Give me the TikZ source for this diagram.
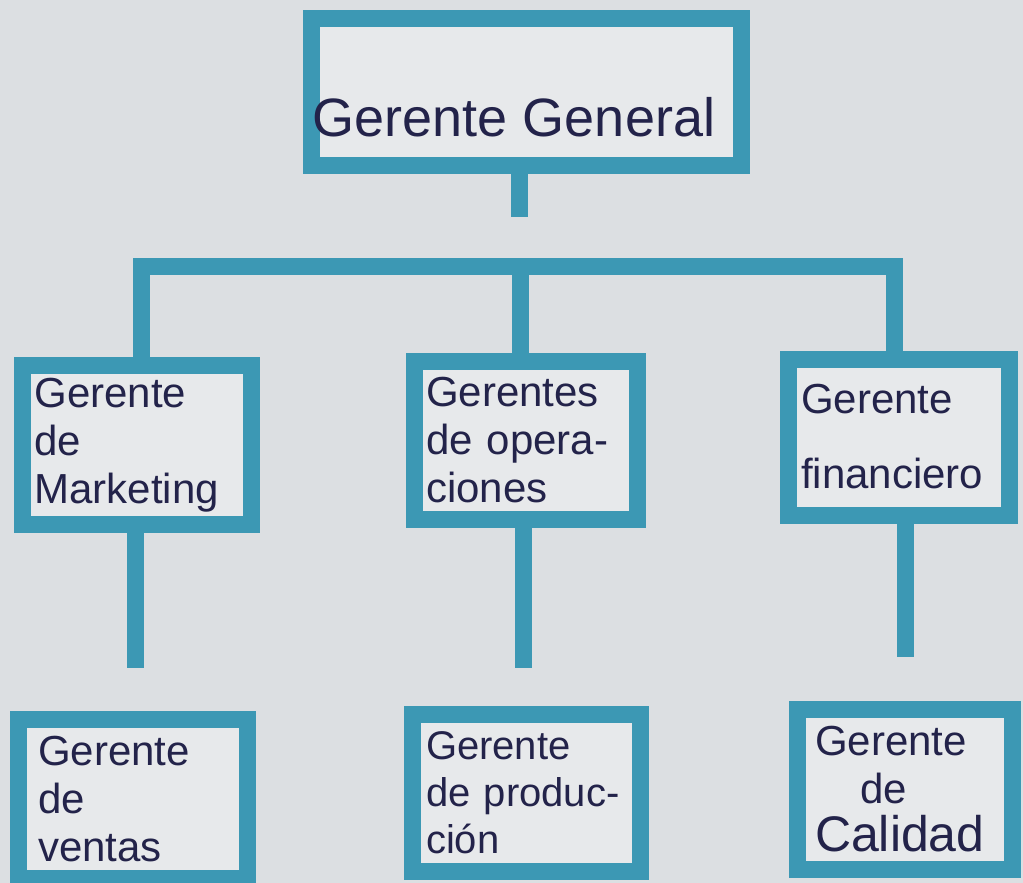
\documentclass[tikz,border=0pt]{standalone}
\usepackage{fontspec}
\setmainfont{Liberation Sans}
\definecolor{cinta}{RGB}{60,152,180}
\definecolor{papel}{RGB}{220,223,226}
\definecolor{hoja}{RGB}{231,233,235}
\definecolor{tinta}{RGB}{35,35,74}
\tikzset{
  caja/.style={draw=cinta, line width=17pt, fill=hoja, text=tinta, align=left, inner sep=0pt,
    font=\fontsize{42}{48}\selectfont},
  linea/.style={draw=cinta, line width=17pt}
}
\begin{document}
\begin{tikzpicture}[x=1pt,y=-1pt]
	\useasboundingbox (0,0) rectangle (1023,883);
	\fill[papel] (0,0) rectangle (1023,883);
	% jefe
	\node[caja, minimum width=430pt, minimum height=147pt, font=\fontsize{54}{60}\selectfont] (gg) at (526,92)
	  {\raisebox{-45pt}[0pt][0pt]{Gerente General\hspace{24pt}}};
	% segundo nivel
	\node[caja, minimum width=229pt, minimum height=159pt, text width=205pt] (mk) at (137,445) {Gerente\\de\\Marketing};
	\node[caja, minimum width=223pt, minimum height=158pt, text width=200pt] (op) at (526,440) {Gerentes\\de opera-\\ciones};
	\node[caja, minimum width=221pt, minimum height=156pt, text width=196pt] (fin) at (899,437) {Gerente\\[27pt]financiero};
	% tercer nivel
	\node[caja, minimum width=229pt, minimum height=159pt, text width=190pt] (ve) at (133,799) {Gerente\\de\\ventas};
	\node[caja, minimum width=228pt, minimum height=157pt, text width=200pt, font=\fontsize{40}{47}\selectfont] (pr) at (526,793)
	  {Gerente\\de produc-\\ción};
	\node[caja, minimum width=215pt, minimum height=160pt, text width=180pt] (ca) at (905,789)
	  {Gerente\\\hspace*{45pt}de\\{\fontsize{50}{52}\selectfont Calidad}};
	% lineas
	\coordinate (t0) at (519.5,217);
	\draw[linea] (gg.south -| t0) -- (t0);
	\coordinate (bl) at (141,266.5);
	\coordinate (bm) at (520.5,266.5);
	\coordinate (br) at (894,266.5);
	\draw[linea] (mk.north -| bl) -- (bl) -- (br) -- (fin.north -| br);
	\draw[linea] (bm) -- (op.north -| bm);
	\coordinate (v1) at (135.5,668);
	\coordinate (v2) at (523,668);
	\coordinate (v3) at (905,657);
	\draw[linea] (mk.south -| v1) -- (v1);
	\draw[linea] (op.south -| v2) -- (v2);
	\draw[linea] (fin.south -| v3) -- (v3);
\end{tikzpicture}
\end{document}
